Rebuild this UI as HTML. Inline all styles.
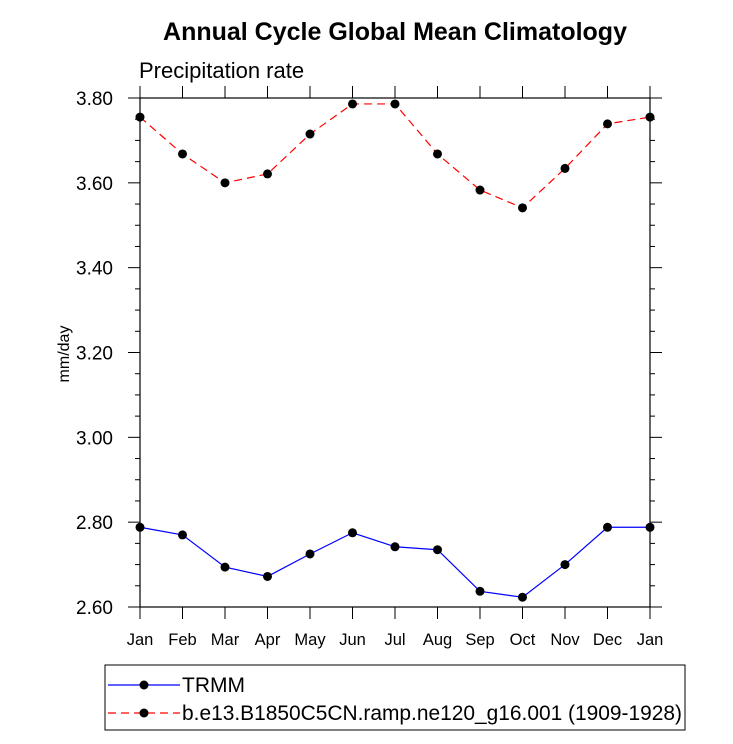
<!DOCTYPE html>
<html><head><meta charset="utf-8"><style>
body{margin:0;background:#fff;font-family:"Liberation Sans",sans-serif;}
</style></head><body>
<svg id="chart" width="733" height="739" xmlns="http://www.w3.org/2000/svg" font-family="Liberation Sans, sans-serif">
<text x="395" y="40" text-anchor="middle" font-size="25" font-weight="bold">Annual Cycle Global Mean Climatology</text>
<text x="139" y="78" font-size="22">Precipitation rate</text>
<text transform="translate(69,354) rotate(-90)" text-anchor="middle" font-size="16">mm/day</text>
<g id="ticks"></g>
<rect x="140" y="98" width="510" height="509" fill="none" stroke="#000" stroke-width="1.2"/>
<g id="series"></g>
<g>
<rect x="105" y="665" width="580" height="65" fill="none" stroke="#000"/>
<g>
<line x1="108" y1="685" x2="180" y2="685" stroke="#0000ff" stroke-width="1.2"/><circle cx="144" cy="685" r="4.5"/>
<text x="182" y="692" font-size="21">TRMM</text></g>
<g>
<line x1="108" y1="713" x2="180" y2="713" stroke="#ff0000" stroke-width="1.2" stroke-dasharray="8,5"/><circle cx="144" cy="713" r="4.5"/>
<text x="182" y="720" font-size="21" textLength="500" lengthAdjust="spacingAndGlyphs">b.e13.B1850C5CN.ramp.ne120_g16.001 (1909-1928)</text></g>
</g>
</svg>
<script>
const months=["Jan","Feb","Mar","Apr","May","Jun","Jul","Aug","Sep","Oct","Nov","Dec","Jan"];
const trmm=[2.788,2.770,2.694,2.672,2.725,2.775,2.742,2.735,2.637,2.623,2.700,2.788,2.788];
const model=[3.755,3.668,3.600,3.621,3.715,3.786,3.786,3.668,3.583,3.541,3.634,3.739,3.755];
const yTicks=[2.6,2.8,3.0,3.2,3.4,3.6,3.8];
const NS="http://www.w3.org/2000/svg";
const x0=140,x1=650,y0=607,y1=98,ymin=2.6,ymax=3.8;
const xs=i=>x0+(x1-x0)*i/(months.length-1);
const ys=v=>y0-(v-ymin)/(ymax-ymin)*(y0-y1);
function el(t,a,p){const e=document.createElementNS(NS,t);for(const k in a)e.setAttribute(k,a[k]);p.appendChild(e);return e;}
const tg=document.getElementById('ticks');
for(let v=ymin;v<=ymax+1e-9;v+=0.05){
 const major=Math.abs(v*5-Math.round(v*5))<1e-6;const L=major?12:5;const y=ys(v);
 const t1=el('line',{x1:x0,x2:x0-L,y1:y,y2:y,stroke:'#000'},tg);
 
 
 const t2=el('line',{x1:x1,x2:x1+L,y1:y,y2:y,stroke:'#000'},tg);
 
 
}
yTicks.forEach(v=>{const t=el('text',{x:x0-27,y:ys(v)+7,'text-anchor':'end','font-size':'19'},tg);t.textContent=v.toFixed(2);
 
 });
months.forEach((m,i)=>{const x=xs(i);
 const a=el('line',{x1:x,x2:x,y1:y0,y2:y0+12,stroke:'#000'},tg);
 
 
 const b=el('line',{x1:x,x2:x,y1:y1,y2:y1-12,stroke:'#000'},tg);
 
 
 const t=el('text',{x:x,y:y0+38,'text-anchor':'middle','font-size':'16.5'},tg);t.textContent=m;
 
 });
const sg=document.getElementById('series');
function draw(vals,color,dash,name){
 const pts=vals.map((v,i)=>xs(i)+','+ys(v)).join(' ');
 const pl=el('polyline',{points:pts,fill:'none',stroke:color,'stroke-width':1.2,'stroke-dasharray':dash},sg);
 
 
 vals.forEach((v,i)=>{const c=el('circle',{cx:xs(i),cy:ys(v),r:4.5,fill:'#000'},sg);
 
 });
}
draw(trmm,'#0000ff','none','trmm');
draw(model,'#ff0000','8,5','model');
</script>
</body></html>
